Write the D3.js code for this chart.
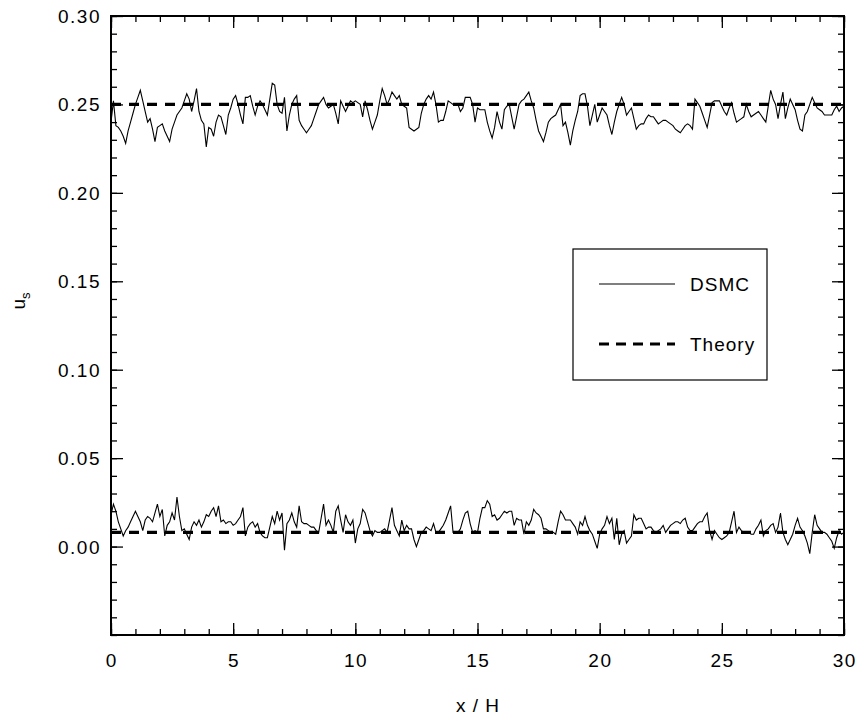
<!DOCTYPE html>
<html>
<head>
<meta charset="utf-8">
<script src="https://cdn.jsdelivr.net/npm/d3@7"></script>
<style>
  html, body { margin: 0; padding: 0; background: #fff; }
  svg text { font-family: "Liberation Sans", Arial, Helvetica, sans-serif; fill: #000; }
</style>
</head>
<body>
<svg id="chart" width="858" height="715"></svg>
<script>
// ---------- data ----------
const xStart = 0;
const xStep = 0.1;
const xTicks = [0, 5, 10, 15, 20, 25, 30];
const yTicks = [0.00, 0.05, 0.10, 0.15, 0.20, 0.25, 0.30];
const yTickLabels = ["0.00", "0.05", "0.10", "0.15", "0.20", "0.25", "0.30"];
const legendLabels = ["DSMC", "Theory"];
const theoryUpper = 0.25;
const theoryLower = 0.008;

const dsmcUpper = [
0.240,0.252,0.238,0.237,0.235,0.232,0.228,0.235,0.240,0.245,
0.250,0.254,0.258,0.252,0.246,0.240,0.242,0.236,0.229,0.237,
0.238,0.239,0.235,0.232,0.229,0.236,0.240,0.244,0.246,0.248,
0.252,0.256,0.253,0.246,0.252,0.259,0.246,0.241,0.239,0.226,
0.237,0.236,0.232,0.240,0.244,0.243,0.238,0.233,0.244,0.248,
0.253,0.255,0.250,0.244,0.239,0.254,0.254,0.255,0.249,0.244,
0.249,0.252,0.250,0.247,0.244,0.253,0.262,0.261,0.250,0.246,
0.245,0.254,0.235,0.244,0.250,0.253,0.255,0.241,0.238,0.236,
0.234,0.236,0.238,0.242,0.246,0.250,0.252,0.254,0.250,0.248,
0.249,0.250,0.245,0.239,0.252,0.249,0.246,0.249,0.252,0.251,
0.252,0.251,0.250,0.243,0.252,0.247,0.241,0.236,0.240,0.244,
0.252,0.259,0.255,0.250,0.253,0.257,0.255,0.253,0.255,0.250,
0.249,0.248,0.237,0.236,0.235,0.236,0.237,0.245,0.250,0.253,
0.255,0.253,0.257,0.250,0.240,0.241,0.241,0.246,0.252,0.251,
0.250,0.250,0.250,0.246,0.248,0.254,0.254,0.254,0.250,0.240,
0.248,0.247,0.247,0.247,0.240,0.235,0.231,0.237,0.246,0.240,
0.236,0.247,0.249,0.250,0.243,0.236,0.243,0.250,0.252,0.253,
0.255,0.257,0.252,0.248,0.241,0.235,0.232,0.229,0.234,0.240,
0.242,0.243,0.244,0.247,0.250,0.238,0.240,0.234,0.227,0.235,
0.241,0.246,0.255,0.256,0.256,0.249,0.238,0.244,0.250,0.240,
0.244,0.248,0.246,0.244,0.238,0.233,0.240,0.246,0.250,0.254,
0.250,0.244,0.246,0.248,0.242,0.236,0.238,0.239,0.239,0.242,
0.244,0.243,0.243,0.241,0.239,0.240,0.241,0.241,0.240,0.239,
0.238,0.236,0.235,0.234,0.236,0.238,0.239,0.238,0.236,0.253,
0.251,0.249,0.245,0.241,0.237,0.244,0.251,0.252,0.252,0.252,
0.249,0.246,0.244,0.248,0.251,0.245,0.240,0.241,0.242,0.243,
0.250,0.246,0.243,0.244,0.245,0.246,0.244,0.242,0.240,0.249,
0.258,0.253,0.250,0.242,0.250,0.257,0.242,0.248,0.253,0.250,
0.247,0.241,0.236,0.235,0.244,0.246,0.250,0.254,0.251,0.248,
0.247,0.246,0.244,0.244,0.244,0.244,0.247,0.249,0.246,0.248,
0.249
];

const dsmcLower = [
0.018,0.024,0.020,0.014,0.010,0.006,0.009,0.011,0.014,0.017,
0.020,0.017,0.014,0.009,0.015,0.017,0.016,0.014,0.019,0.024,
0.017,0.021,0.006,0.012,0.014,0.019,0.015,0.028,0.017,0.009,
0.010,0.007,0.004,0.011,0.014,0.012,0.015,0.011,0.014,0.018,
0.017,0.020,0.022,0.017,0.023,0.014,0.015,0.013,0.014,0.014,
0.012,0.013,0.015,0.017,0.022,0.006,0.011,0.013,0.014,0.011,
0.013,0.008,0.006,0.005,0.005,0.011,0.017,0.013,0.020,0.015,
0.019,-0.002,0.013,0.015,0.019,0.014,0.011,0.023,0.014,0.013,
0.013,0.012,0.011,0.011,0.009,0.008,0.016,0.024,0.012,0.015,
0.012,0.008,0.020,0.023,0.015,0.008,0.018,0.014,0.012,0.015,
0.002,0.010,0.013,0.021,0.019,0.014,0.009,0.006,0.009,0.008,
0.008,0.009,0.010,0.008,0.015,0.022,0.012,0.009,0.006,0.015,
0.009,0.012,0.010,0.010,0.004,0.000,0.004,0.008,0.009,0.011,
0.010,0.009,0.013,0.008,0.008,0.010,0.012,0.015,0.019,0.023,
0.008,0.008,0.008,0.010,0.015,0.019,0.020,0.013,0.008,0.009,
0.008,0.016,0.022,0.022,0.026,0.024,0.017,0.018,0.015,0.016,
0.018,0.020,0.019,0.020,0.020,0.012,0.016,0.015,0.015,0.007,
0.014,0.012,0.015,0.021,0.019,0.018,0.016,0.010,0.010,0.009,
0.008,0.008,0.007,0.014,0.020,0.018,0.015,0.015,0.015,0.013,
0.011,0.007,0.014,0.012,0.017,0.012,0.009,0.007,0.003,-0.001,
0.007,0.010,0.012,0.017,0.013,0.016,0.004,0.016,0.001,0.007,
0.009,0.002,0.004,0.006,0.018,0.015,0.016,0.016,0.013,0.010,
0.011,0.011,0.009,0.008,0.009,0.010,0.012,0.008,0.010,0.012,
0.013,0.014,0.014,0.013,0.015,0.016,0.011,0.009,0.009,0.011,
0.013,0.014,0.014,0.017,0.019,0.009,0.004,0.009,0.007,0.005,
0.004,0.005,0.006,0.008,0.014,0.020,0.008,0.011,0.009,0.008,
0.008,0.008,0.007,0.007,0.010,0.012,0.015,0.006,0.009,0.010,
0.012,0.013,0.008,0.011,0.019,0.008,0.004,0.001,0.004,0.007,
0.012,0.016,0.011,0.009,0.006,0.002,-0.004,0.008,0.018,0.012,
0.010,0.008,0.008,0.007,0.005,0.003,-0.001,0.005,0.009,0.007,
0.008
];

// ---------- layout ----------
const svg = d3.select("#chart");
const pLeft = 111, pRight = 844, pTop = 16, pBottom = 635;

const x = d3.scaleLinear().domain([0, 30]).range([pLeft, pRight]);
const y = d3.scaleLinear().domain([-0.05, 0.30]).range([pBottom, pTop]);

const minorX = d3.range(0, 31, 1);
const minorY = d3.range(-50, 301, 10).map(v => v / 1000);

const fontSize = 19;

function axisGroup(axis, tx, ty) {
  const g = svg.append("g").attr("transform", `translate(${tx},${ty})`).call(axis);
  g.select(".domain").remove();
  g.selectAll("line").attr("stroke", "#000").attr("stroke-width", 1.3);
  g.selectAll("text").remove();
  return g;
}
// minor ticks
axisGroup(d3.axisBottom(x).tickValues(minorX).tickSize(-6).tickFormat(""), 0, pBottom);
axisGroup(d3.axisTop(x).tickValues(minorX).tickSize(-6).tickFormat(""), 0, pTop);
axisGroup(d3.axisLeft(y).tickValues(minorY).tickSize(-6).tickFormat(""), pLeft, 0);
axisGroup(d3.axisRight(y).tickValues(minorY).tickSize(-6).tickFormat(""), pRight, 0);
// major ticks
axisGroup(d3.axisBottom(x).tickValues(xTicks).tickSize(-12).tickFormat(""), 0, pBottom);
axisGroup(d3.axisTop(x).tickValues(xTicks).tickSize(-12).tickFormat(""), 0, pTop);
axisGroup(d3.axisLeft(y).tickValues(yTicks).tickSize(-12).tickFormat(""), pLeft, 0);
axisGroup(d3.axisRight(y).tickValues(yTicks).tickSize(-12).tickFormat(""), pRight, 0);

// tick labels
svg.append("g").selectAll("text").data(xTicks).join("text")
  .attr("x", d => x(d) + 0.75)
  .attr("y", 667)
  .attr("text-anchor", "middle")
  .attr("font-size", fontSize)
  .attr("letter-spacing", 1.5)
  .text(d => d);

svg.append("g").selectAll("text").data(yTicks).join("text")
  .attr("x", 101)
  .attr("y", d => y(d) + 7)
  .attr("text-anchor", "end")
  .attr("font-size", fontSize)
  .attr("letter-spacing", 1.5)
  .text((d, i) => yTickLabels[i]);

// axis titles
svg.append("text")
  .attr("x", 478).attr("y", 712)
  .attr("text-anchor", "middle")
  .attr("font-size", fontSize)
  .attr("letter-spacing", 1)
  .text("x / H");

const yl = svg.append("text")
  .attr("transform", "translate(25,301) rotate(-90)")
  .attr("text-anchor", "middle")
  .attr("font-size", fontSize);
yl.append("tspan").text("u");
yl.append("tspan").attr("font-size", 13).attr("dy", 5).text("s");

// lines
const line = d3.line()
  .x((d, i) => x(xStart + i * xStep))
  .y(d => y(d));

svg.append("path").datum(dsmcUpper).attr("d", line)
  .attr("fill", "none").attr("stroke", "#000").attr("stroke-width", 1.1);
svg.append("path").datum(dsmcLower).attr("d", line)
  .attr("fill", "none").attr("stroke", "#000").attr("stroke-width", 1.1);

[theoryUpper, theoryLower].forEach(v => {
  svg.append("line")
    .attr("x1", x(0)).attr("x2", x(30))
    .attr("y1", y(v)).attr("y2", y(v))
    .attr("stroke", "#000").attr("stroke-width", 3.2)
    .attr("stroke-dasharray", "10,8");
});

// frame
svg.append("rect")
  .attr("x", pLeft).attr("y", pTop)
  .attr("width", pRight - pLeft).attr("height", pBottom - pTop)
  .attr("fill", "none").attr("stroke", "#000").attr("stroke-width", 2);

// legend
const lg = svg.append("g");
lg.append("rect").attr("x", 573).attr("y", 249).attr("width", 194).attr("height", 131)
  .attr("fill", "#fff").attr("stroke", "#000").attr("stroke-width", 1.2);
lg.append("line").attr("x1", 599).attr("x2", 675).attr("y1", 284).attr("y2", 284)
  .attr("stroke", "#000").attr("stroke-width", 1.1);
lg.append("line").attr("x1", 599).attr("x2", 675).attr("y1", 344).attr("y2", 344)
  .attr("stroke", "#000").attr("stroke-width", 3.2).attr("stroke-dasharray", "10,7");
lg.selectAll("text.lab").data(legendLabels).join("text")
  .attr("class", "lab")
  .attr("x", 690)
  .attr("y", (d, i) => 291 + i * 60)
  .attr("font-size", fontSize)
  .attr("letter-spacing", 1)
  .text(d => d);
</script>
</body>
</html>
